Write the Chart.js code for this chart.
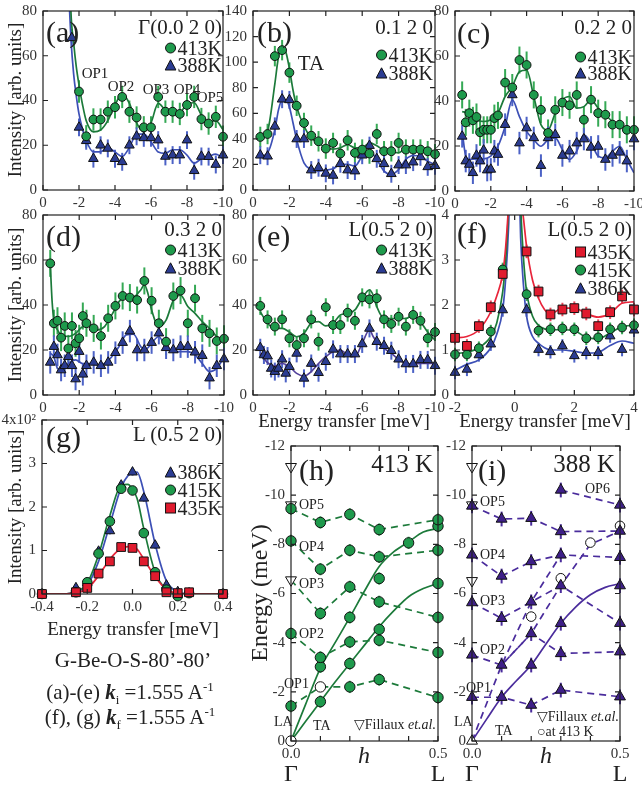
<html>
<head>
<meta charset="utf-8">
<style>
  body { margin: 0; background: #fff; }
  #fig { position: relative; width: 642px; height: 787px; overflow: hidden; font-family: "Liberation Serif", "DejaVu Serif", serif; color: #222; }
  .t { position: absolute; white-space: nowrap; line-height: 1; z-index: 5; }
  .lg { display: flex; align-items: center; }
</style>
</head>
<body>
<div id="fig"></div>
<script src="https://cdn.jsdelivr.net/npm/chart.js"></script>
<script>
// ---- data ----
// (a) Gamma(0.0 2 0)
var eA = [-1.6,-2.0,-2.4,-2.8,-3.2,-3.6,-4.0,-4.4,-4.8,-5.2,-5.6,-6.0,-6.4,-6.8,-7.2,-7.6,-8.0,-8.4,-8.8,-9.2,-9.6,-10];
var a413 = [null,44,24,31.5,31.5,35,37,41.6,35,32.4,28,28,41.6,35,35,34,38,41.6,31.7,29.7,32.7,23.8];
var a388 = [68,28,22,14,20,18.6,14,12.6,20,24,23.3,23.3,22.3,15,15.6,15.6,22.3,8.6,15,14.9,11.4,15.6];
var fitEA = [-1.45,-1.55,-1.7,-1.85,-2.0,-2.2,-2.4,-2.8,-3.2,-3.6,-4.0,-4.4,-4.8,-5.2,-5.6,-6.0,-6.4,-6.8,-7.2,-7.6,-8.0,-8.4,-8.8,-9.2,-9.6,-10];
var fitA413 = [110,80,66,55,47,38,31,26,26.8,31,38,43,38.7,30,26,30,38.7,35.7,33.5,34,38.7,39,33.5,30.5,31,27];
var fitA388 = [85,68,52,42,34,27,22,17,17,19,17,15,19,25,25,21.5,17,16.4,18,18,15.6,12,14,15,16,14];
// (b) 0.1 2 0
var eB = [-0.4,-0.8,-1.2,-1.6,-2.0,-2.4,-2.8,-3.2,-3.6,-4.0,-4.4,-4.8,-5.2,-5.6,-6.0,-6.4,-6.8,-7.2,-7.6,-8.0,-8.4,-8.8,-9.2,-9.6,-10];
var b413 = [41.5,43.8,104.7,109.4,91.8,65.9,52.4,42.5,38.1,32.4,36.8,28.5,38.9,29,31.6,28.5,43.8,30.3,30.3,36.8,31.6,31.6,31.6,30.3,28];
var b388 = [27.2,26.4,49.8,71,70.5,39.9,39.9,15.6,17.4,13,11.4,20.5,15.6,14.8,27.2,34.7,24.4,20.5,12.7,19.5,19.5,21.8,25.9,18.1,19];
var fitEB = [-0.4,-0.8,-1.2,-1.4,-1.6,-1.8,-2.0,-2.2,-2.4,-2.8,-3.2,-3.6,-4.0,-4.4,-4.8,-5.2,-5.6,-6.0,-6.4,-6.8,-7.2,-7.6,-8.0,-8.4,-8.8,-9.2,-9.6,-10];
var fitB413 = [40.7,46,83,104,110.7,108,95,78,65,50,40.7,36.8,33,32,33,35.5,33,33,36.8,34.7,31,30.3,29,33,34.2,33,29,27];
var fitB388 = [26.4,29,47,62.7,70.5,70.5,65,52.4,39.4,21.3,16,14.8,15.6,16.6,20,20,18.7,26.4,30.3,23.9,14.8,12.2,16,23.9,27,26.4,22.5,20];
// (c) 0.2 2 0
var eC = [-0.4,-0.6,-0.8,-1.0,-1.2,-1.4,-1.6,-1.8,-2.0,-2.2,-2.4,-2.8,-3.2,-3.6,-4.0,-4.4,-4.8,-5.2,-5.6,-6.0,-6.4,-6.8,-7.2,-7.6,-8.0,-8.4,-8.8,-9.2,-9.6,-10];
var c413 = [42.7,30.5,34.6,31.4,32.9,26.1,27.2,27.2,27.2,32.4,33.6,48.2,46,58.2,56,42.7,36.1,25.8,36.1,39.3,38.1,42.7,31.7,40.6,34.6,33.9,29.5,29.5,27.2,27.2];
var c388 = [24.3,13.3,11.8,8.1,15.8,13.3,18.1,9.3,9.6,17.7,16.2,29.5,42.7,21.3,28,23.6,11.3,23.6,25,15.8,17.7,21.3,23.1,19.4,19.8,14,15.8,17.2,13.3,23.1];
var fitEC = [-0.4,-0.6,-0.8,-1.2,-1.6,-2.0,-2.4,-2.8,-3.2,-3.6,-4.0,-4.4,-4.8,-5.2,-5.6,-6.0,-6.4,-6.8,-7.2,-7.6,-8.0,-8.4,-8.8,-9.2,-9.6,-10];
var fitC413 = [35.3,35,34.6,31.7,30.9,31.7,34.6,42,46.4,53,53.7,42,29.5,27.2,34.6,40.5,42,36.8,37.5,40.5,36.8,33.9,30.9,29.5,28,26.5];
var fitC388 = [26.5,15.5,14,14.3,14.3,15.5,19.9,28.7,40.5,33.1,26.5,22.8,19.9,22.8,23.6,18.4,14,17.7,25,21.3,15.5,14.7,17.7,19.9,14,8.1];
// (d) 0.3 2 0
var eD = [-0.4,-0.6,-0.8,-1.0,-1.2,-1.4,-1.6,-1.8,-2.0,-2.2,-2.4,-2.8,-3.2,-3.6,-4.0,-4.4,-4.8,-5.2,-5.6,-6.0,-6.4,-6.8,-7.2,-7.6,-8.0,-8.4,-8.8,-9.2,-9.6,-10];
var d413 = [58.5,31.9,33,25.5,30.7,20.7,30.7,23,25.2,35.1,31.9,29.6,26.2,34.1,39.6,44,43.3,42.2,50.7,41.9,31.9,23.7,44,46.4,31.9,43,29.6,27.4,24,25];
var d388 = [14.5,21.5,17.8,11.1,13,17,13,7.1,19.3,9.2,13,14.5,13,14.5,18.8,23.3,28.4,20,20,23.3,27.5,21,20,21.5,21.5,19,17.5,7.5,13,16];
var fitED = [-0.4,-0.5,-0.6,-0.8,-1.0,-1.4,-1.8,-2.2,-2.6,-3.0,-3.4,-3.8,-4.2,-4.6,-5.0,-5.4,-5.6,-5.8,-6.0,-6.4,-6.8,-7.2,-7.6,-8.0,-8.4,-8.8,-9.2,-9.6,-10];
var fitD413 = [58.5,42,33.3,28.9,26.7,26,27.4,30.4,30.7,28.9,30.4,35.6,41.5,43.7,43.7,46.7,49,45,37.8,30.4,33.3,42,44.4,39.3,36.3,32.6,29.6,26,24.4];
var fitD388 = [18.5,18,17,11.8,11.1,14,15.6,14,14,13.3,14,17,21.5,26.7,27,21.5,20,21,23,26,20.7,19.3,19.3,19.3,17.8,14,10.4,11.8,17];
// (e) L(0.5 2 0)
var eE = [-0.4,-0.6,-0.8,-1.0,-1.2,-1.4,-1.6,-1.8,-2.0,-2.4,-2.8,-3.2,-3.6,-4.0,-4.4,-4.8,-5.2,-5.6,-6.0,-6.4,-6.8,-7.2,-7.6,-8.0,-8.4,-8.8,-9.2,-9.6,-10];
var e413 = [39.6,null,33.6,null,30.4,null,33.6,null,25.2,22.2,25.2,33.6,23.7,39,31.1,31.1,36.6,33,43.4,42.5,43,33.6,31.6,34.8,30.4,35.6,33,25.2,28];
var e388 = [21,17.8,17.3,11.8,10.4,11.8,15.9,9.6,12.6,18.5,7.4,14,9.9,14.8,20.3,18.2,18.2,18.2,22.7,29.6,23.7,21.9,19.7,15.9,13.8,13.8,15.6,15.6,13];
var fitEE = [-0.4,-0.8,-1.2,-1.6,-2.0,-2.4,-2.8,-3.2,-3.6,-4.0,-4.4,-4.8,-5.2,-5.6,-6.0,-6.4,-6.6,-6.8,-7.2,-7.6,-8.0,-8.4,-8.8,-9.2,-9.6,-10];
var fitE413 = [37,31.9,29.6,29.6,28,25.9,27.4,31.9,32.6,30.7,31.9,35.6,36.3,37.8,43,46.7,44.4,39.3,34,34,34,34,35.6,32.6,28,24.4];
var fitE388 = [18.5,14.4,12.9,14,12.6,9.6,8.4,10.4,14,17,19.3,20,17.8,17,23,28.9,26,23.7,20.7,18.5,15.9,14,13.8,14,14,14];
// (f) L(0.5 2 0), kf fixed
var eF = [-2.0,-1.6,-1.2,-0.8,-0.4,0.4,0.8,1.2,1.6,2.0,2.4,2.8,3.2,3.6,4.0];
var f435 = [1.27,1.09,1.53,1.95,2.69,3.19,2.30,1.79,1.90,1.93,1.81,1.53,1.84,2.19,1.90];
var f415 = [0.90,0.90,1.04,1.41,2.79,2.24,1.43,1.46,1.48,1.46,1.26,1.28,1.46,1.50,1.55];
var f386 = [0.50,0.57,0.89,1.13,1.89,1.89,1.01,0.96,1.09,0.87,0.94,0.94,1.31,1.01,1.44];
var fitEF = [-2.0,-1.6,-1.2,-0.8,-0.6,-0.4,-0.3,-0.2,-0.1,0,0.1,0.2,0.3,0.4,0.6,0.8,1.0,1.2,1.6,2.0,2.4,2.8,3.2,3.6,4.0];
var fitF435 = [1.27,1.30,1.45,1.85,2.2,2.7,3.3,4.3,6,8,6,4.5,3.9,3.3,2.55,2.15,1.9,1.8,1.93,1.93,1.81,1.73,1.81,2.04,2.07];
var fitF415 = [0.92,0.95,1.05,1.3,1.6,2.3,3.0,4.2,6,8,6,4.2,3.0,2.3,1.75,1.55,1.47,1.45,1.45,1.43,1.28,1.25,1.38,1.52,1.55];
var fitF386 = [0.55,0.68,0.78,1.05,1.35,1.9,2.6,3.8,6,8,6,3.5,2.4,1.75,1.3,1.15,1.05,1.0,1.0,0.97,0.93,0.95,1.1,1.2,1.15];
// (g) elastic, x10^2
var eG = [-0.4,-0.25,-0.2,-0.15,-0.1,-0.05,0,0.05,0.1,0.15,0.2,0.25,0.4];
var g386 = [0,0.14,0.25,0.98,1.45,2.5,2.8,2.2,1.12,0.2,0.05,0.02,0];
var g415 = [0,0.04,0.27,0.93,1.67,2.42,2.38,1.4,0.5,0.1,-0.05,0.02,0];
var g435 = [0,0.04,0.14,0.47,0.75,1.08,1.06,0.75,0.41,0.04,0.02,0.04,0];
var fitEG = [-0.4,-0.3,-0.25,-0.2,-0.15,-0.1,-0.05,-0.02,0,0.02,0.05,0.1,0.15,0.2,0.25,0.3,0.4];
var fitG386 = [0,0,0.05,0.2,0.75,1.6,2.45,2.72,2.78,2.8,2.35,1.15,0.3,0.05,0,0,0];
var fitG415 = [0,0,0.05,0.25,0.9,1.8,2.5,2.52,2.4,2.2,1.5,0.5,0.1,0,0,0,0];
var fitG435 = [0,0,0.03,0.12,0.42,0.8,1.05,1.09,1.07,1.03,0.8,0.4,0.1,0.02,0,0,0];
// (h) dispersion 413 K
var hQ = [0,0,0,0,0.1,0.1,0.1,0.1,0.1,0.1,0.2,0.2,0.2,0.2,0.2,0.2,0.2,0.3,0.3,0.3,0.3,0.3,0.3,0.3,0.4,0.5,0.5,0.5,0.5,0.5,0.5,0.5];
var hE = [-1.42,-4.37,-8.14,-9.45,-1.6,-3.02,-3.4,-5.19,-6.99,-8.89,-2.2,-3.15,-4.03,-5.03,-6.27,-7.76,-9.22,-2.5,-4.1,-4.54,-5.66,-6.61,-7.49,-8.6,-8.06,-1.77,-3.6,-5.03,-6.41,-7.76,-8.74,-9.0];
var hOpenQ = [0,0.1];
var hOpenE = [0,-2.2];
var fillQ = [0,0,0];
var fillE = [-11.16,-9.6,-6.55];
var branchQ = [0,0.1,0.2,0.3,0.5];
var hOP1 = [-1.42,-2.2,-2.2,-2.5,-1.77];
var hOP2 = [-4.37,-3.4,-4.03,-4.1,-3.6];
var hOP3 = [-6.55,-5.19,-6.27,-5.66,-5.03];
var hOP4 = [-8.14,-6.99,-7.76,-7.49,-7.76];
var hOP5 = [-9.45,-8.89,-9.22,-8.6,-9.0];
var solidQ = [0,0.05,0.1,0.15,0.2,0.25,0.3,0.35,0.4,0.45,0.5];
var hLA = [0,-1.5,-2.96,-4.0,-5.03,-6.1,-7.1,-7.7,-8.1,-8.5,-8.65];
var hTA = [0,-0.8,-1.6,-2.4,-3.15,-3.9,-4.65,-5.3,-5.87,-6.2,-6.41];
// (i) dispersion 388 K
var iQ = [0,0,0,0,0,0.1,0.1,0.1,0.1,0.1,0.2,0.2,0.2,0.2,0.2,0.2,0.3,0.3,0.3,0.3,0.3,0.3,0.3,0.5,0.5,0.5,0.5,0.5,0.5,0.5];
var iE = [-1.78,-3.5,-5.63,-7.57,-9.56,-1.78,-3.09,-4.99,-6.71,-9.03,-1.46,-3.09,-4.37,-5.66,-7.3,-9.06,-2.07,-3.56,-4.79,-6.32,-7.57,-8.52,-10.21,-1.8,-3.63,-4.79,-6.32,-7.47,-8.54,-9.6];
var iOpenQ = [0.2,0.3,0.4,0.5];
var iOpenE = [-5.06,-6.62,-8.07,-8.75];
var iFillE = [-11.16,-9.6,-6.52];
var iOP1 = [-1.78,-1.78,-1.46,-2.07,-1.8];
var iOP2 = [-3.5,-3.09,-4.37,-3.56,-3.63];
var iOP3 = [-5.63,-4.99,-5.66,-6.32,-4.79];
var iOP4 = [-7.57,-6.71,-7.3,-7.57,-7.47];
var iOP5 = [-9.56,-9.03,-9.06,-8.52,-8.54];
var iOP6Q = [0.3,0.5];
var iOP6 = [-10.21,-9.6];
var iLA1Q = [0,0.1,0.2,0.3];
var iLA1 = [0,-3.09,-5.66,-7.57];
var iLA2Q = [0.1,0.2,0.3,0.4,0.5];
var iLA2 = [-3.09,-4.37,-6.32,-8.0,-8.54];
var iTA = [0,-0.9,-1.78,-2.45,-3.09,-3.95,-4.79,-5.45,-5.95,-6.25,-6.4];

// ---- styling ----
var SERIF = '"Liberation Serif", "DejaVu Serif", serif';
var GREEN = '#1e9a4c', GREEN_L = '#1c7a3a', GREEN_E = '#35a955';
var BLUE = '#2b3c92', BLUE_L = '#3d50b6', BLUE_E = '#4c62c6';
var RED = '#e01b2e', RED_L = '#e8243a', RED_E = '#e8485a';
var PURP = '#3e1f88', PURP_L = '#4a2c9c';
var PAD = {l: 44, r: 16, t: 10, b: 24};
var fig = document.getElementById('fig');

function xy(xs, ys) {
    return xs.map(function (x, i) { return {x: x, y: ys[i]}; });
}
function pts(xs, ys, style, fill, r, err, errColor, extra) {
    var d = {
        data: xy(xs, ys), showLine: false, pointStyle: style, pointRadius: r,
        pointBackgroundColor: fill, pointBorderColor: '#111', pointBorderWidth: 1,
        err: err, errColor: errColor, order: 0, clip: false
    };
    return Object.assign(d, extra || {});
}
function line(xs, ys, color, dash) {
    return {
        data: xy(xs, ys), showLine: true, pointRadius: 0, borderColor: color,
        borderWidth: 1.7, borderDash: dash || [], fill: false,
        tension: 0, cubicInterpolationMode: dash ? 'default' : 'monotone', order: 1
    };
}

// box around plot + inward ticks on all four sides
var frame = {
    id: 'frame',
    afterDraw: function (chart) {
        var ctx = chart.ctx, a = chart.chartArea, sx = chart.scales.x, sy = chart.scales.y;
        ctx.save();
        ctx.strokeStyle = '#222';
        ctx.lineWidth = 1.2;
        ctx.strokeRect(a.left, a.top, a.right - a.left, a.bottom - a.top);
        ctx.beginPath();
        sx.ticks.forEach(function (t) {
            var p = sx.getPixelForValue(t.value);
            ctx.moveTo(p, a.bottom); ctx.lineTo(p, a.bottom - 5);
            ctx.moveTo(p, a.top); ctx.lineTo(p, a.top + 5);
        });
        sy.ticks.forEach(function (t) {
            var p = sy.getPixelForValue(t.value);
            ctx.moveTo(a.left, p); ctx.lineTo(a.left + 5, p);
            ctx.moveTo(a.right, p); ctx.lineTo(a.right - 5, p);
        });
        ctx.stroke();
        ctx.restore();
    }
};
var errorBars = {
    id: 'errorBars',
    beforeDatasetsDraw: function (chart) {
        var ctx = chart.ctx, sy = chart.scales.y;
        ctx.save();
        chart.data.datasets.forEach(function (ds, i) {
            if (!ds.err) return;
            var meta = chart.getDatasetMeta(i);
            ctx.strokeStyle = ds.errColor;
            ctx.lineWidth = 2;
            ds.data.forEach(function (p, j) {
                if (p.y == null) return;
                var el = meta.data[j];
                ctx.beginPath();
                ctx.moveTo(el.x, sy.getPixelForValue(p.y - ds.err));
                ctx.lineTo(el.x, sy.getPixelForValue(p.y + ds.err));
                ctx.stroke();
            });
        });
        ctx.restore();
    }
};

function axis(o, which) {
    return {
        type: 'linear', min: o.min, max: o.max, reverse: !!o.reverse,
        grid: {display: false, drawTicks: false}, border: {display: false},
        ticks: {
            stepSize: o.step, autoSkip: false, maxRotation: 0, padding: which === 'x' ? 4 : 6,
            color: '#333', font: {family: SERIF, size: 15},
            callback: o.fmt || function (v) { return String(+v.toFixed(2)); }
        },
        afterFit: function (s) {
            if (which === 'x') { s.height = PAD.b; s.paddingLeft = 0; s.paddingRight = 0; }
            else { s.width = PAD.l; s.paddingTop = 0; s.paddingBottom = 0; }
        }
    };
}

// box = [left, top, right, bottom] of the plot area in page pixels
function panel(box, xo, yo, datasets) {
    var w = box[2] - box[0] + PAD.l + PAD.r, h = box[3] - box[1] + PAD.t + PAD.b;
    var cv = document.createElement('canvas');
    cv.width = w; cv.height = h;
    cv.style.cssText = 'position:absolute;left:' + (box[0] - PAD.l) + 'px;top:' + (box[1] - PAD.t) + 'px;width:' + w + 'px;height:' + h + 'px';
    fig.appendChild(cv);
    return new Chart(cv, {
        type: 'scatter',
        data: {datasets: datasets},
        options: {
            responsive: false, animation: false, devicePixelRatio: 1,
            layout: {padding: {left: 0, top: PAD.t, right: PAD.r, bottom: 0}},
            plugins: {legend: {display: false}, tooltip: {enabled: false}},
            scales: {x: axis(xo, 'x'), y: axis(yo, 'y')}
        },
        plugins: [frame, errorBars]
    });
}

// text helpers
function txt(html, x, y, size, anchor, extra) {
    var d = document.createElement('div');
    d.className = 't';
    var tx = anchor === 'r' ? '-100%' : anchor === 'c' ? '-50%' : '0';
    d.style.cssText = 'left:' + x + 'px;top:' + y + 'px;font-size:' + size + 'px;transform:translate(' + tx + ',-50%)' + (extra ? ';' + extra : '');
    d.innerHTML = html;
    fig.appendChild(d);
    return d;
}
function vtxt(html, x, y, size) {
    return txt(html, x, y, size, 'c', 'transform:translate(-50%,-50%) rotate(-90deg)');
}
function marker(shape, fill) {
    var s = '<svg width="12" height="12" style="margin-right:1px">';
    if (shape === 'c') s += '<circle cx="6" cy="6" r="5" fill="' + fill + '" stroke="#111"/>';
    if (shape === 't') s += '<polygon points="6,0.8 11.4,11 0.6,11" fill="' + fill + '" stroke="#111"/>';
    if (shape === 's') s += '<rect x="1" y="1" width="10" height="10" fill="' + fill + '" stroke="#111"/>';
    return s + '</svg>';
}
function leg(shape, fill, label, xr, y) {
    var d = txt(marker(shape, fill) + '<span>' + label + '</span>', xr, y, 20, 'r');
    d.classList.add('lg');
}

var revX = {min: -10, max: 0, step: 2, reverse: true};
var RC = 4.4, RT = 5.6, RS = 6.2;

// ---- row 1 ----
panel([43, 11, 223, 190], revX, {min: 0, max: 80, step: 20}, [
    pts(eA, a413, 'circle', GREEN, RC, 5, GREEN_E),
    pts(eA, a388, 'triangle', BLUE, RT, 4, BLUE_E),
    line(fitEA, fitA413, GREEN_L),
    line(fitEA, fitA388, BLUE_L)
]);
panel([253, 11, 435, 190], revX, {min: 0, max: 140, step: 20}, [
    pts(eB, b413, 'circle', GREEN, RC, 8, GREEN_E),
    pts(eB, b388, 'triangle', BLUE, RT, 7, BLUE_E),
    line(fitEB, fitB413, GREEN_L),
    line(fitEB, fitB388, BLUE_L)
]);
panel([455, 11, 634, 191], revX, {min: 0, max: 80, step: 20}, [
    pts(eC, c413, 'circle', GREEN, RC, 6, GREEN_E),
    pts(eC, c388, 'triangle', BLUE, RT, 5, BLUE_E),
    line(fitEC, fitC413, GREEN_L),
    line(fitEC, fitC388, BLUE_L)
]);
// ---- row 2 ----
panel([43, 215, 224, 395], revX, {min: 0, max: 80, step: 20}, [
    pts(eD, d413, 'circle', GREEN, RC, 6, GREEN_E),
    pts(eD, d388, 'triangle', BLUE, RT, 5, BLUE_E),
    line(fitED, fitD413, GREEN_L),
    line(fitED, fitD388, BLUE_L)
]);
panel([253, 215, 435, 395], revX, {min: 0, max: 80, step: 20}, [
    pts(eE, e413, 'circle', GREEN, RC, 4, GREEN_E),
    pts(eE, e388, 'triangle', BLUE, RT, 4, BLUE_E),
    line(fitEE, fitE413, GREEN_L),
    line(fitEE, fitE388, '#52409a')
]);
panel([455, 215, 634, 395], {min: -2, max: 4, step: 2}, {min: 0, max: 4, step: 1}, [
    pts(eF, f435, 'rect', RED, RS, 0.15, RED_E),
    pts(eF, f415, 'circle', GREEN, RC, 0.15, GREEN_E),
    pts(eF, f386, 'triangle', BLUE, RT, 0.15, BLUE_E),
    line(fitEF, fitF435, RED_L),
    line(fitEF, fitF415, GREEN_L),
    line(fitEF, fitF386, BLUE_L)
]);
// ---- (g) ----
panel([42, 420, 223, 594], {min: -0.4, max: 0.4, step: 0.2, fmt: function (v) { return Math.abs(v) < 1e-9 ? '0.0' : v.toFixed(1); }},
    {min: 0, max: 4, step: 1, fmt: function (v) { return v === 4 ? '4x10\u00B2' : String(v); }}, [
    pts(eG, g435, 'rect', RED, RS, 0.08, RED_E),
    pts(eG, g415, 'circle', GREEN, RC + 0.4, 0.08, GREEN_E),
    pts(eG, g386, 'triangle', BLUE, RT, 0.08, BLUE_E),
    line(fitEG, fitG435, RED_L),
    line(fitEG, fitG415, GREEN_L),
    line(fitEG, fitG386, BLUE_L)
]);
// ---- (h), (i) ----
var qAxis = {min: 0, max: 0.5, step: 0.1, fmt: function (v) { return Math.abs(v) < 1e-9 ? '0.0' : Math.abs(v - 0.5) < 1e-9 ? '0.5' : ''; }};
var eAxis = {min: -12, max: 0, step: 2, reverse: true};
var DASH = [7, 5];
panel([291, 446, 438, 741], qAxis, eAxis, [
    pts(hQ, hE, 'circle', GREEN, 5.2, 0.25, GREEN_E),
    pts(hOpenQ, hOpenE, 'circle', '#fff', 5.2),
    pts(fillQ, fillE, 'triangle', '#fff', 6.3, 0, null, {rotation: 180}),
    line(branchQ, hOP1, GREEN_L, DASH),
    line(branchQ, hOP2, GREEN_L, DASH),
    line(branchQ, hOP3, GREEN_L, DASH),
    line(branchQ, hOP4, GREEN_L, DASH),
    line(branchQ, hOP5, GREEN_L, DASH),
    line(solidQ, hLA, GREEN_L),
    line(solidQ, hTA, GREEN_L)
]);
panel([472, 446, 620, 741], qAxis, eAxis, [
    pts(iQ, iE, 'triangle', PURP, 6.3, 0.3, PURP_L),
    pts(iOpenQ, iOpenE, 'circle', '#fff', 4.8),
    pts(fillQ, iFillE, 'triangle', '#fff', 6.3, 0, null, {rotation: 180}),
    pts([0], [0], 'triangle', '#fff', 6.3),
    line(branchQ, iOP1, PURP_L, DASH),
    line(branchQ, iOP2, PURP_L, DASH),
    line(branchQ, iOP3, PURP_L, DASH),
    line(branchQ, iOP4, PURP_L, DASH),
    line(branchQ, iOP5, PURP_L, DASH),
    line(iOP6Q, iOP6, PURP_L, DASH),
    line(iLA1Q, iLA1, PURP_L, DASH),
    line(iLA2Q, iLA2, PURP_L, DASH),
    line(solidQ, iTA, PURP_L)
]);

// ---- text ----
vtxt('Intensity [arb. units]', 14, 100, 19);
vtxt('Intensity [arb. units]', 14, 305, 19);
vtxt('Intensity [arb. units]', 14, 507, 19);
txt('Energy transfer [meV]', 344, 420, 19, 'c');
txt('Energy transfer [meV]', 545, 420, 19, 'c');
txt('Energy transfer [meV]', 133, 628, 19, 'c');

txt('(a)', 46, 32, 30); txt('\u0393(0.0 2 0)', 222, 27, 21, 'r');
leg('c', GREEN, '413K', 222, 48); leg('t', BLUE, '388K', 222, 65);
txt('OP1', 95, 73, 15, 'c'); txt('OP2', 121, 86, 15, 'c'); txt('OP3', 156, 89, 15, 'c');
txt('OP4', 187, 89, 15, 'c'); txt('OP5', 210, 97, 15, 'c');

txt('(b)', 257, 32, 30); txt('0.1 2 0', 433, 27, 21, 'r');
leg('c', GREEN, '413K', 433, 55); leg('t', BLUE, '388K', 433, 73);
txt('TA', 311, 63, 21, 'c');

txt('(c)', 457, 33, 30); txt('0.2 2 0', 632, 27, 21, 'r');
leg('c', GREEN, '413K', 632, 57); leg('t', BLUE, '388K', 632, 73);

txt('(d)', 46, 236, 30); txt('0.3 2 0', 222, 229, 21, 'r');
leg('c', GREEN, '413K', 222, 250); leg('t', BLUE, '388K', 222, 268);

txt('(e)', 257, 236, 30); txt('L(0.5 2 0)', 433, 229, 21, 'r');
leg('c', GREEN, '413K', 433, 250); leg('t', BLUE, '388K', 433, 268);

txt('(f)', 457, 233, 30); txt('L(0.5 2 0)', 632, 229, 21, 'r');
leg('s', RED, '435K', 632, 252); leg('c', GREEN, '415K', 632, 270); leg('t', BLUE, '386K', 632, 288);

txt('(g)', 46, 437, 30); txt('L (0.5 2 0)', 222, 434, 21, 'r');
leg('t', BLUE, '386K', 222, 472); leg('c', GREEN, '415K', 222, 490); leg('s', RED, '435K', 222, 508);

txt('G-Be-O-S-80\u2019-80\u2019', 133, 660, 21, 'c');
txt('(a)-(e) <b><i>k</i></b><sub style="font-size:13px">i</sub> =1.555 A<sup style="font-size:13px">-1</sup>', 130, 693, 21, 'c');
txt('(f), (g) <b><i>k</i></b><sub style="font-size:13px">f</sub> =1.555 A<sup style="font-size:13px">-1</sup>', 130, 718, 21, 'c');

vtxt('Energy (meV)', 259, 593, 24);
txt('(h)', 299, 470, 30); txt('413 K', 433, 463, 25, 'r');
txt('OP5', 299, 505, 14); txt('OP4', 299, 547, 14); txt('OP3', 299, 584, 14);
txt('OP2', 299, 634, 14); txt('OP1', 284, 684, 14);
txt('LA', 274, 722, 14); txt('TA', 313, 726, 14);
txt('\u25BDFillaux <i>et.al.</i>', 354, 725, 14);
txt('<i>h</i>', 364, 755, 24, 'c');
txt('\u0393', 291, 773, 24, 'c'); txt('L', 438, 773, 24, 'c');

txt('(i)', 478, 470, 30); txt('388 K', 615, 463, 25, 'r');
txt('OP6', 585, 489, 14); txt('OP5', 480, 502, 14); txt('OP4', 480, 555, 14);
txt('OP3', 480, 601, 14); txt('OP2', 480, 650, 14); txt('OP1', 466, 688, 14);
txt('LA', 454, 722, 14); txt('TA', 495, 731, 14);
txt('\u25BDFillaux <i>et.al.</i>', 537, 717, 14);
txt('\u25CBat 413 K', 537, 732, 14);
txt('<i>h</i>', 546, 755, 24, 'c');
txt('\u0393', 472, 773, 24, 'c'); txt('L', 620, 773, 24, 'c');
</script>
</body>
</html>
